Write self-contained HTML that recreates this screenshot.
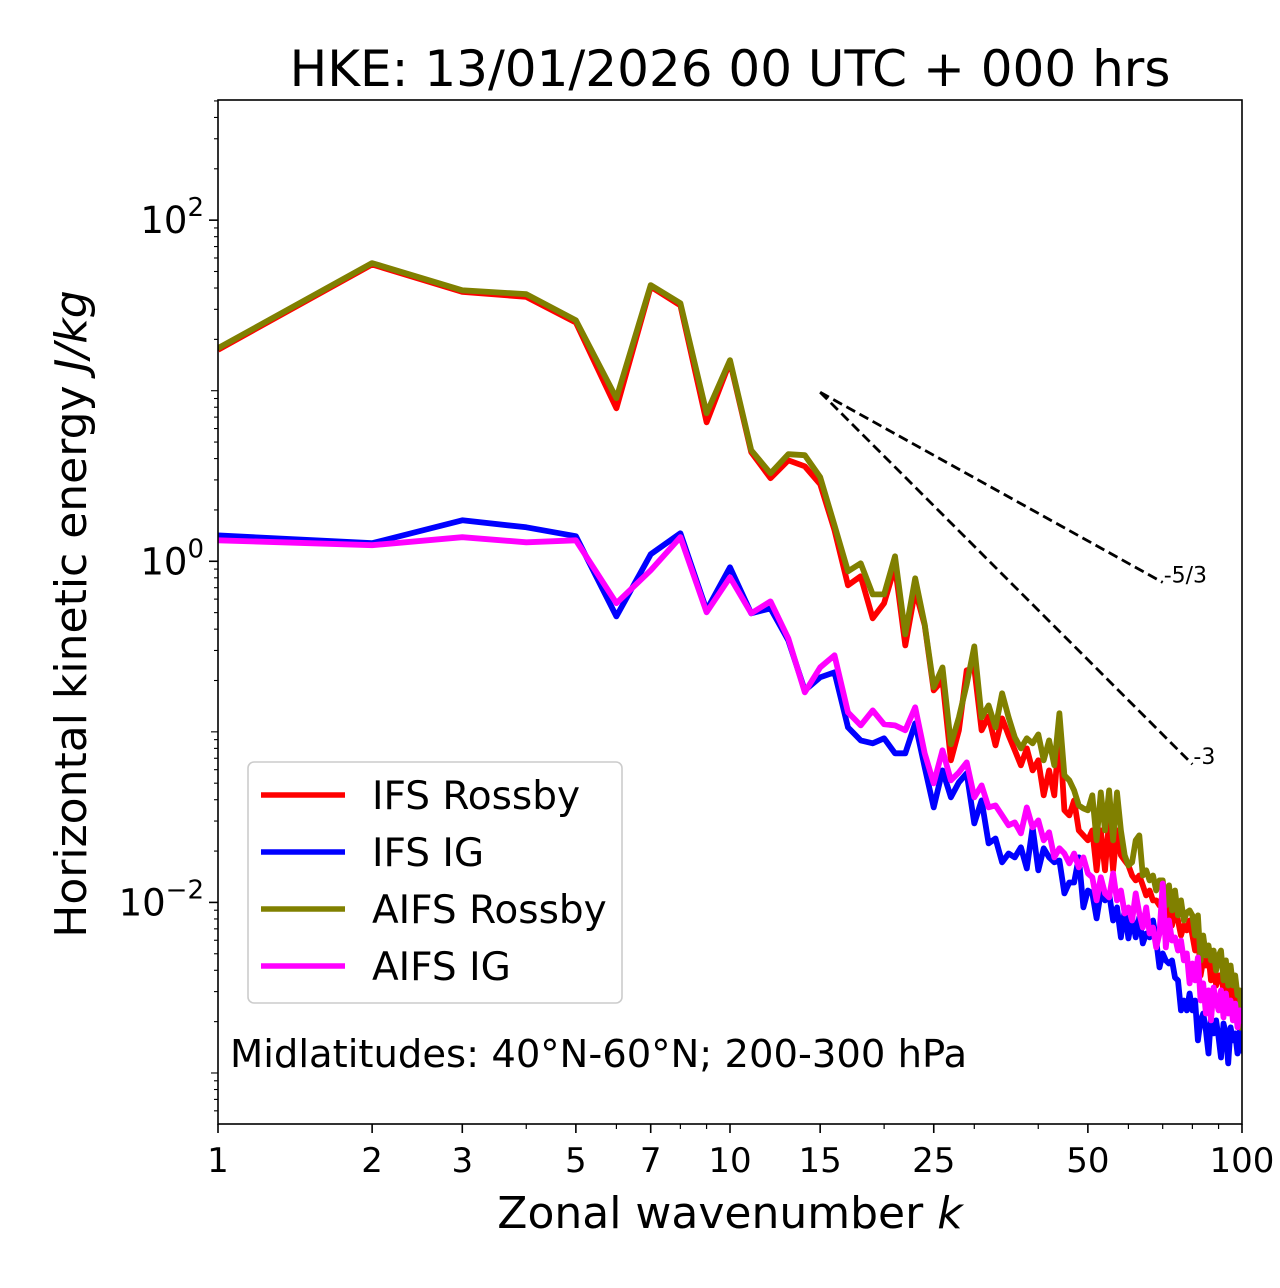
<!DOCTYPE html>
<html><head><meta charset="utf-8">
<style>
html,body{margin:0;padding:0;background:#fff;}
svg{display:block;font-family:"DejaVu Sans","Liberation Sans",sans-serif;}
</style></head>
<body>
<svg id="chart" width="1280" height="1288" viewBox="0 0 1280 1288" xmlns="http://www.w3.org/2000/svg">
<rect width="1280" height="1288" fill="#fff"/>
<text x="730" y="86" font-size="50" text-anchor="middle">HKE: 13/01/2026 00 UTC + 000 hrs</text>
<g id="ticks"></g>
<g id="series" clip-path="url(#clip)"></g>
<defs><clipPath id="clip"><rect x="218" y="100" width="1024" height="1024"/></clipPath></defs>
<g id="refs"></g>
<rect x="218" y="100" width="1024" height="1024" fill="none" stroke="#000" stroke-width="1.6"/>
<text transform="translate(86,614) rotate(-90)" font-size="44" text-anchor="middle">Horizontal kinetic energy <tspan font-style="italic">J/kg</tspan></text>
<text x="730" y="1228" font-size="44" text-anchor="middle">Zonal wavenumber <tspan font-style="italic">k</tspan></text>
<g>
<rect x="248" y="762" width="374" height="241" rx="6" fill="#fff" stroke="#ccc" stroke-width="1.6"/>
<line x1="261" y1="795" x2="345" y2="795" stroke="#ff0000" stroke-width="5.5"/>
<text x="372" y="809" font-size="39">IFS Rossby</text>
<line x1="261" y1="852" x2="345" y2="852" stroke="#0000ff" stroke-width="5.5"/>
<text x="372" y="866" font-size="39">IFS IG</text>
<line x1="261" y1="909" x2="345" y2="909" stroke="#808000" stroke-width="5.5"/>
<text x="372" y="923" font-size="39">AIFS Rossby</text>
<line x1="261" y1="966" x2="345" y2="966" stroke="#ff00ff" stroke-width="5.5"/>
<text x="372" y="980" font-size="39">AIFS IG</text>
</g>
<text x="230" y="1067" font-size="38.5">Midlatitudes: 40°N-60°N; 200-300 hPa</text>
</svg>
<script>
// log10 of energy (J/kg) for wavenumbers k = 1..100
const ifsRossbyLog = [1.24,1.74,1.58,1.55,1.40,0.897,1.61,1.50,0.815,1.17,0.64,0.487,0.592,0.557,0.452,
0.182,-0.141,-0.088,-0.334,-0.246,-0.029,-0.493,-0.170,-0.375,-0.757,-0.698,-1.167,-0.991,-0.639,-0.628,
-0.991,-0.909,-1.079,-0.921,-1.021,-1.108,-1.196,-1.097,-1.226,-1.167,-1.372,-1.226,-1.372,-0.991,-1.460,
-1.490,-1.402,-1.578,-1.607,-1.636,-1.578,-1.812,-1.578,-1.812,-1.519,-1.812,-1.578,-1.724,-1.754,-1.783,
-1.842,-1.871,-1.842,-1.900,-1.959,-1.930,-1.988,-1.988,-2.018,-1.959,-2.106,-1.988,-2.135,-2.047,-2.106,
-2.194,-2.135,-2.164,-2.106,-2.194,-2.282,-2.164,-2.428,-2.340,-2.370,-2.311,-2.457,-2.340,-2.487,-2.428,
-2.428,-2.516,-2.428,-2.575,-2.487,-2.575,-2.516,-2.604,-2.575,-2.692];
const ifsIgLog = [0.152,0.106,0.240,0.199,0.147,-0.323,0.041,0.164,-0.287,-0.035,-0.305,-0.276,-0.463,-0.757,-0.680,
-0.651,-0.974,-1.050,-1.067,-1.038,-1.126,-1.126,-0.950,-1.208,-1.443,-1.226,-1.384,-1.296,-1.243,-1.537,
-1.402,-1.654,-1.625,-1.765,-1.713,-1.736,-1.677,-1.801,-1.560,-1.812,-1.683,-1.736,-1.765,-1.754,-1.947,
-1.883,-1.883,-1.736,-2.029,-1.930,-1.947,-2.094,-1.941,-1.988,-1.947,-2.106,-2.029,-2.205,-2.047,-2.211,
-2.088,-2.205,-2.088,-2.240,-2.182,-2.205,-2.106,-2.223,-2.381,-2.299,-2.340,-2.358,-2.340,-2.440,-2.457,
-2.633,-2.575,-2.633,-2.534,-2.633,-2.575,-2.809,-2.692,-2.651,-2.751,-2.886,-2.674,-2.768,-2.692,-2.792,
-2.909,-2.710,-2.768,-2.944,-2.733,-2.809,-2.768,-2.886,-2.751,-2.886];
const aifsRossbyLog = [1.249,1.748,1.589,1.566,1.413,0.956,1.619,1.513,0.868,1.179,0.651,0.516,0.628,0.622,0.493,
0.211,-0.059,-0.012,-0.194,-0.194,0.029,-0.428,-0.100,-0.370,-0.739,-0.622,-1.073,-0.915,-0.721,-0.499,
-0.915,-0.845,-0.974,-0.774,-0.915,-1.032,-1.097,-1.038,-1.067,-1.015,-1.167,-1.050,-1.196,-0.891,-1.255,
-1.284,-1.343,-1.431,-1.449,-1.460,-1.372,-1.636,-1.355,-1.578,-1.343,-1.636,-1.355,-1.578,-1.724,-1.783,
-1.765,-1.636,-1.607,-1.842,-1.812,-1.871,-1.842,-1.930,-1.871,-1.871,-2.018,-1.900,-2.047,-1.930,-2.076,
-1.988,-2.106,-2.059,-2.047,-2.076,-2.194,-2.076,-2.340,-2.194,-2.311,-2.252,-2.340,-2.282,-2.399,-2.311,
-2.282,-2.457,-2.340,-2.487,-2.370,-2.487,-2.428,-2.545,-2.516,-2.751];
const aifsIgLog = [0.123,0.094,0.141,0.111,0.123,-0.246,-0.053,0.141,-0.299,-0.094,-0.305,-0.235,-0.452,-0.768,-0.622,
-0.551,-0.886,-0.962,-0.874,-0.956,-0.962,-0.991,-0.856,-1.126,-1.302,-1.108,-1.284,-1.238,-1.179,-1.384,
-1.314,-1.443,-1.431,-1.490,-1.548,-1.531,-1.595,-1.443,-1.560,-1.519,-1.636,-1.589,-1.736,-1.683,-1.713,
-1.771,-1.713,-1.795,-1.736,-1.830,-1.853,-1.988,-1.853,-1.947,-1.971,-1.830,-1.988,-1.930,-2.065,-2.029,
-2.106,-1.947,-2.065,-2.147,-2.029,-2.182,-2.147,-2.264,-2.182,-1.889,-2.264,-2.106,-2.223,-2.205,-2.282,
-2.223,-2.340,-2.299,-2.475,-2.358,-2.457,-2.323,-2.575,-2.475,-2.651,-2.516,-2.692,-2.499,-2.575,-2.633,
-2.516,-2.674,-2.534,-2.651,-2.575,-2.692,-2.593,-2.733,-2.633,-2.710];
const xTickLabels = [1,2,3,5,7,10,15,25,50,100];
const yTickExps = [-2,0,2];
const slopeLabels = ["-5/3","-3"];
const slopes = [-5/3,-3];
const slopeEnds = [70,80];
const slopeStartK = 15, slopeStartE = 9.8;

const NS="http://www.w3.org/2000/svg";
const X0=218,X1=1242,Y0=100,Y1=1124;
const xLogMin=0,xLogMax=2, yLogMin=-3.2991, yLogMax=2.7044;
function xs(k){return X0+(Math.log10(k)-xLogMin)/(xLogMax-xLogMin)*(X1-X0);}
function ysLog(l){return Y1-(l-yLogMin)/(yLogMax-yLogMin)*(Y1-Y0);}
function ys(e){return ysLog(Math.log10(e));}
function mk(tag,attrs,parent){const el=document.createElementNS(NS,tag);for(const a in attrs)el.setAttribute(a,attrs[a]);parent.appendChild(el);return el;}

const ticks=document.getElementById('ticks');
for(let d=0;d<2;d++){for(let m=1;m<10;m++){const k=m*Math.pow(10,d);const x=xs(k);
 const lab=xTickLabels.includes(k);
 const t=mk('line',{x1:x,x2:x,y1:Y1,y2:Y1+(lab?9:5),stroke:'#000','stroke-width':lab?1.6:1.2},ticks);
 
 
}}
{const x=xs(100);const t=mk('line',{x1:x,x2:x,y1:Y1,y2:Y1+9,stroke:'#000','stroke-width':1.6},ticks);
 
 }
xTickLabels.forEach(k=>{
 const x=xs(k);
 if(k===15||k===25){mk('line',{x1:x,x2:x,y1:Y1,y2:Y1+9,stroke:'#000','stroke-width':1.6},ticks);}
 const t=mk('text',{x:x,y:Y1+48,'font-size':34,'text-anchor':'middle'},ticks);
 t.textContent=k;
 
 
});
for(let d=-4;d<=2;d++){for(let m=1;m<10;m++){const l=d+Math.log10(m);if(l<yLogMin||l>yLogMax)continue;const y=ysLog(l);
 const major=(m===1&&d%2===0);
 const t=mk('line',{x1:X0-(major?9:(m===1?7:4)),x2:X0,y1:y,y2:y,stroke:'#000','stroke-width':major?1.6:1.1},ticks);
 
 
}}
yTickExps.forEach(e=>{
 const y=ysLog(e);
 const t=mk('text',{x:X0-14,y:y+13,'font-size':37,'text-anchor':'end'},ticks);
 t.textContent='10';
 const s=mk('tspan',{dy:-17,'font-size':26},t);
 s.textContent=(e<0?'\u2212':'')+Math.abs(e);
 
 
});
const seriesG=document.getElementById('series');
const defs=[[ifsRossbyLog,'#ff0000','ifs-rossby-line'],[ifsIgLog,'#0000ff','ifs-ig-line'],[aifsRossbyLog,'#808000','aifs-rossby-line'],[aifsIgLog,'#ff00ff','aifs-ig-line']];
defs.forEach(([arr,col,name])=>{
 const d=arr.map((l,i)=>(i?'L':'M')+xs(i+1).toFixed(1)+','+ys(Math.pow(10,l)).toFixed(1)).join(' ');
 const p=mk('path',{d:d,fill:'none',stroke:col,'stroke-width':5.8,'stroke-linejoin':'round'},seriesG);
 
 
});
const refs=document.getElementById('refs');
slopes.forEach((s,i)=>{
 const kEnd=slopeEnds[i];
 const eEnd=slopeStartE*Math.pow(kEnd/slopeStartK,s);
 const l=mk('line',{x1:xs(slopeStartK),y1:ys(slopeStartE),x2:xs(kEnd),y2:ys(eEnd),stroke:'#000','stroke-width':2.8,'stroke-dasharray':'10,5'},refs);
 
 
 const t=mk('text',{x:xs(kEnd)+1,y:ys(eEnd),'font-size':22},refs);
 t.textContent=slopeLabels[i];
 
 
});
</script>
</body></html>
